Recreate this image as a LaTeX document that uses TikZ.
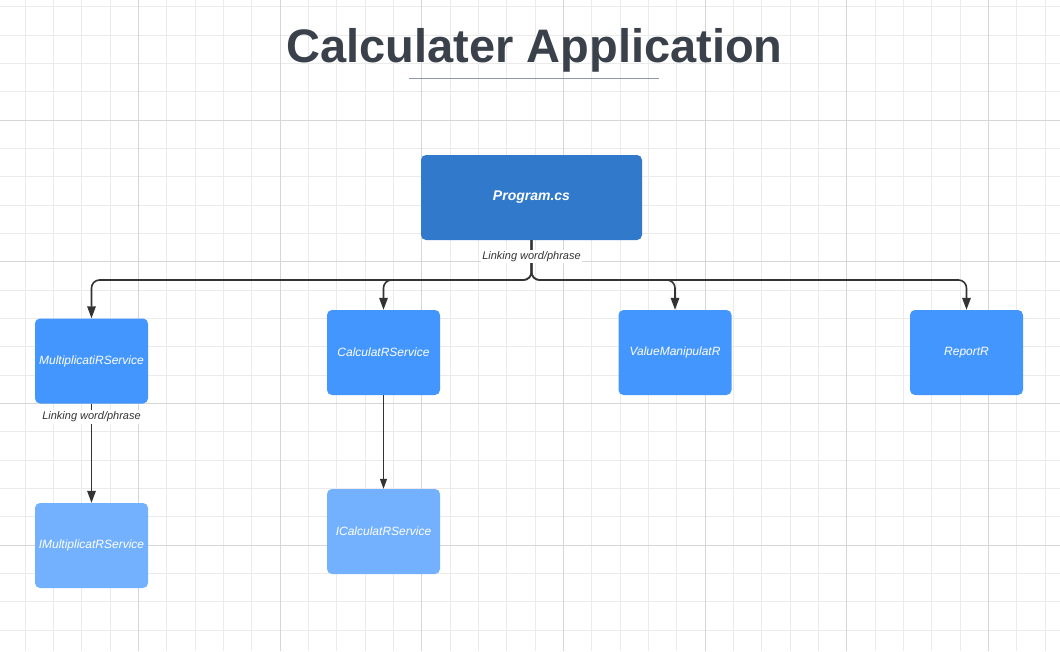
\documentclass[tikz,border=0pt]{standalone}
\usepackage{fontspec}
\setmainfont{Liberation Sans}
\usetikzlibrary{arrows.meta}
\definecolor{progblue}{HTML}{3179CB}
\definecolor{midblue}{HTML}{4496FF}
\definecolor{lightblue}{HTML}{73B1FF}
\definecolor{titlegray}{HTML}{3A414A}
\definecolor{rulegray}{HTML}{8E98AA}
\definecolor{minorgrid}{HTML}{EBEBEB}
\definecolor{majorgrid}{HTML}{D6D6D6}
\definecolor{linkgray}{HTML}{333333}
\begin{document}
\begin{tikzpicture}[x=1pt,y=-1pt,
  box/.style={rectangle, rounded corners=5pt, minimum width=113pt, minimum height=85pt, inner sep=0pt, text=white, font=\fontsize{12}{14}\selectfont\itshape},
  progbox/.style={rectangle, rounded corners=5pt, fill=progblue, minimum width=221pt, minimum height=85pt, inner sep=0pt, text=white, font=\fontsize{14}{16}\selectfont\bfseries\itshape},
  conn/.style={draw=linkgray, line width=1.6pt, rounded corners=8pt, -{Triangle[length=12pt,width=8.5pt]}},
  thinconn/.style={draw=linkgray, line width=1pt, -{Triangle[length=10pt,width=7pt]}},
  linklabel/.style={fill=white, inner sep=1.5pt, text=linkgray, font=\fontsize{11}{13}\selectfont\itshape}
]
\useasboundingbox (0,0) rectangle (1060,651);
\fill[white] (0,0) rectangle (1060,651);
% grid
\foreach \i in {0,...,38} {
  \draw[minorgrid, line width=0.8pt] ({-3.33+28.333*\i},0) -- ({-3.33+28.333*\i},651);
}
\foreach \j in {0,...,24} {
  \draw[minorgrid, line width=0.8pt] (0,{-21.67+28.333*\j}) -- (1060,{-21.67+28.333*\j});
}
\foreach \i in {0,...,7} {
  \draw[majorgrid, line width=0.9pt] ({-3.33+141.667*\i},0) -- ({-3.33+141.667*\i},651);
}
\foreach \j in {0,...,4} {
  \draw[majorgrid, line width=0.9pt] (0,{-21.67+141.667*\j}) -- (1060,{-21.67+141.667*\j});
}
% title
\node[anchor=base, text=titlegray, font=\fontsize{47}{50}\selectfont\bfseries, inner sep=0pt] (title) at (534.5,62) {Calculater Application};
\coordinate (ruleL) at (409,78);
\coordinate (ruleR) at (659,78);
\draw[rulegray, line width=1pt] (ruleL) -- (ruleR);
% nodes
\node[progbox] (prog) at (531.5,197.5) {Program.cs};
\node[box, fill=midblue] (mult) at (91.5,361) {MultiplicatiRService};
\node[box, fill=lightblue] (imult) at (91.5,545.5) {IMultiplicatRService};
\node[box, fill=midblue] (calc) at (383.5,352.5) {CalculatRService};
\node[box, fill=lightblue] (icalc) at (383.5,531.5) {ICalculatRService};
\node[box, fill=midblue] (val) at (675,352.5) {ValueManipulatR};
\node[box, fill=midblue] (rep) at (966.5,352.5) {ReportR};
% connectors
\coordinate (fork) at (531.5,280);
\draw[conn] (prog.south) -- (fork) -| (mult.north);
\draw[conn] (prog.south) -- (fork) -| (calc.north);
\draw[conn] (prog.south) -- (fork) -| (val.north);
\draw[conn] (prog.south) -- (fork) -| (rep.north);
\draw[conn] (mult.south) -- (imult.north);
\draw[thinconn] (calc.south) -- (icalc.north);
\node[linklabel] (lab1) at (531.5,256.5) {Linking word/phrase};
\node[linklabel] (lab2) at (91.5,417) {Linking word/phrase};
\end{tikzpicture}
\end{document}
